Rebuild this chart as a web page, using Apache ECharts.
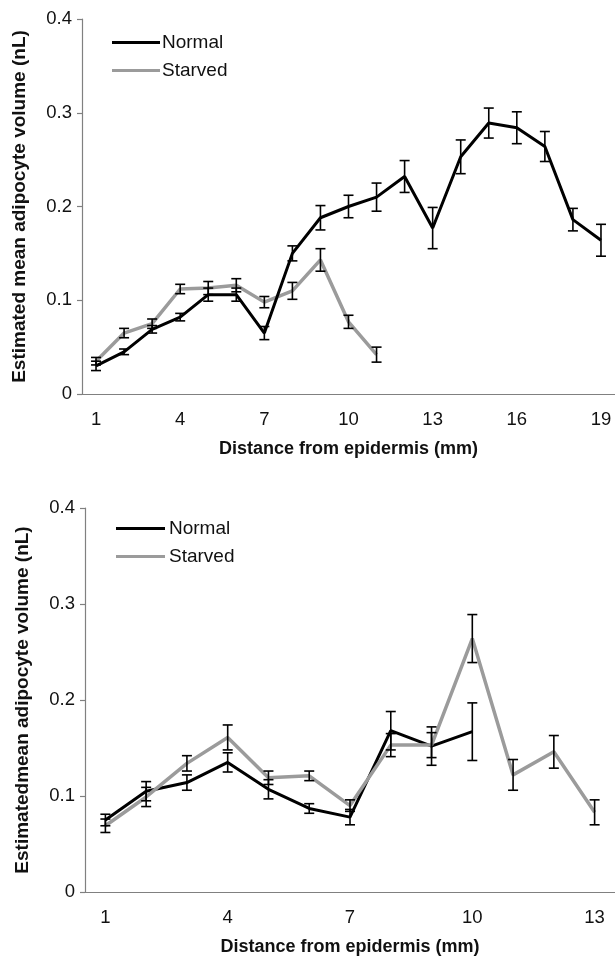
<!DOCTYPE html>
<html><head><meta charset="utf-8">
<script src="https://cdn.jsdelivr.net/npm/echarts@6/dist/echarts.min.js"></script>
<style>html,body{margin:0;padding:0;background:#fff}#c{width:615px;height:963px}</style>
</head><body><div id="c"></div>
<script>
const topCategories = ['1','2','3','4','5','6','7','8','9','10','11','12','13','14','15','16','17','18','19'];
const topNormal = [0.030, 0.045, 0.069, 0.082, 0.106, 0.106, 0.065, 0.150, 0.188, 0.200, 0.210, 0.232, 0.177, 0.253, 0.289, 0.284, 0.264, 0.186, 0.164];
const topNormalErr = [0.005, 0.003, 0.004, 0.004, 0.007, 0.007, 0.007, 0.008, 0.013, 0.012, 0.015, 0.017, 0.022, 0.018, 0.016, 0.017, 0.016, 0.012, 0.017];
const topStarved = [0.035, 0.065, 0.075, 0.112, 0.113, 0.116, 0.098, 0.110, 0.143, 0.077, 0.042];
const topStarvedErr = [0.004, 0.005, 0.005, 0.005, 0.007, 0.007, 0.006, 0.009, 0.012, 0.007, 0.008];

const bottomCategories = ['1','2','3','4','5','6','7','8','9','10','11','12','13'];
const bottomNormal = [0.075, 0.105, 0.114, 0.135, 0.107, 0.087, 0.078, 0.168, 0.152, 0.167];
const bottomNormalErr = [0.006, 0.010, 0.008, 0.010, 0.010, 0.005, 0.008, 0.020, 0.020, 0.030];
const bottomStarved = [0.069, 0.099, 0.134, 0.161, 0.119, 0.121, 0.090, 0.153, 0.153, 0.264, 0.122, 0.146, 0.083];
const bottomStarvedErr = [0.007, 0.010, 0.008, 0.013, 0.007, 0.005, 0.006, 0.012, 0.013, 0.025, 0.016, 0.017, 0.013];

const yTickLabels = ['0', '0.1', '0.2', '0.3', '0.4'];
const seriesNames = ['Normal', 'Starved'];
const xTitle = 'Distance from epidermis (mm)';
const yTitleTop = 'Estimated mean adipocyte volume (nL)';
const yTitleBottom = 'Estimatedmean adipocyte volume (nL)';

const FONT = '"Liberation Sans", Arial, sans-serif';
const AXIS_COLOR = '#808080';
const NORMAL_COLOR = '#000000';
const STARVED_COLOR = '#9b9b9b';

function errData(vals, errs) {
  return vals.map((v, i) => [i, v, errs[i]]);
}
function errRender(params, api) {
  const x = api.value(0), v = api.value(1), e = api.value(2);
  const hi = api.coord([x, v + e]);
  const lo = api.coord([x, v - e]);
  const hw = 5;
  const st = { stroke: '#000', lineWidth: 1.6 };
  return {
    type: 'group',
    children: [
      { type: 'line', shape: { x1: hi[0], y1: hi[1], x2: lo[0], y2: lo[1] }, style: st },
      { type: 'line', shape: { x1: hi[0] - hw, y1: hi[1], x2: hi[0] + hw, y2: hi[1] }, style: st },
      { type: 'line', shape: { x1: lo[0] - hw, y1: lo[1], x2: lo[0] + hw, y2: lo[1] }, style: st }
    ]
  };
}

function xAxisCfg(cats, gridIndex) {
  return {
    type: 'category', gridIndex, data: cats, boundaryGap: true,
    axisLine: { lineStyle: { color: AXIS_COLOR, width: 1.2 } },
    axisTick: { interval: 0, length: 5, lineStyle: { color: AXIS_COLOR, width: 1.2 } },
    axisLabel: { interval: 2, margin: 16, color: '#111', fontFamily: FONT, fontSize: 18.5 },
    name: xTitle, nameLocation: 'middle', nameGap: 46,
    nameTextStyle: { fontFamily: FONT, fontSize: 18, fontWeight: 'bold', color: '#111' }
  };
}
function yAxisCfg(title, gridIndex) {
  return {
    type: 'value', gridIndex, min: 0, max: 0.4, interval: 0.1,
    splitLine: { show: false },
    axisLine: { show: true, lineStyle: { color: AXIS_COLOR, width: 1.2 } },
    axisTick: { show: true, length: 5, lineStyle: { color: AXIS_COLOR, width: 1.2 } },
    axisLabel: {
      margin: 10, color: '#111', fontFamily: FONT, fontSize: 18.5,
      formatter: (v) => yTickLabels[Math.round(v * 10)]
    },
    name: title, nameLocation: 'middle', nameGap: 53, nameRotate: 90,
    nameTextStyle: { fontFamily: FONT, fontSize: 19, fontWeight: 'bold', color: '#111' }
  };
}
function legendCfg(left, top, w, textShift) {
  return {
    orient: 'vertical', left, top, padding: 0, itemWidth: w, itemHeight: 3, itemGap: 9,
    icon: 'rect',
    data: seriesNames,
    textStyle: { fontFamily: FONT, fontSize: 19, color: '#111', lineHeight: 19, padding: [0, 0, 0, textShift] }
  };
}

const chart = echarts.init(document.getElementById('c'), null, { renderer: 'canvas' });
chart.setOption({
  animation: false,
  backgroundColor: '#fff',
  grid: [
    { left: 82, right: 0, top: 19, height: 375, containLabel: false },
    { left: 85, right: 0, top: 508, height: 384, containLabel: false }
  ],
  legend: [legendCfg(112, 33, 48, -3), legendCfg(116, 519, 49, -1)],
  xAxis: [xAxisCfg(topCategories, 0), xAxisCfg(bottomCategories, 1)],
  yAxis: [yAxisCfg(yTitleTop, 0), yAxisCfg(yTitleBottom, 1)],
  series: [
    { name: seriesNames[0], type: 'line', xAxisIndex: 0, yAxisIndex: 0, data: topNormal, symbol: 'none',
      lineStyle: { color: NORMAL_COLOR, width: 3 }, itemStyle: { color: NORMAL_COLOR }, z: 3 },
    { name: seriesNames[1], type: 'line', xAxisIndex: 0, yAxisIndex: 0, data: topStarved, symbol: 'none',
      lineStyle: { color: STARVED_COLOR, width: 3.5 }, itemStyle: { color: STARVED_COLOR }, z: 2 },
    { name: 'Normal error', type: 'custom', xAxisIndex: 0, yAxisIndex: 0, renderItem: errRender,
      data: errData(topNormal, topNormalErr), encode: { x: 0, y: 1 }, z: 5 },
    { name: 'Starved error', type: 'custom', xAxisIndex: 0, yAxisIndex: 0, renderItem: errRender,
      data: errData(topStarved, topStarvedErr), encode: { x: 0, y: 1 }, z: 5 },

    { name: seriesNames[0], type: 'line', xAxisIndex: 1, yAxisIndex: 1, data: bottomNormal, symbol: 'none',
      lineStyle: { color: NORMAL_COLOR, width: 3 }, itemStyle: { color: NORMAL_COLOR }, z: 2 },
    { name: seriesNames[1], type: 'line', xAxisIndex: 1, yAxisIndex: 1, data: bottomStarved, symbol: 'none',
      lineStyle: { color: STARVED_COLOR, width: 3.5 }, itemStyle: { color: STARVED_COLOR }, z: 3 },
    { name: 'Normal error', type: 'custom', xAxisIndex: 1, yAxisIndex: 1, renderItem: errRender,
      data: errData(bottomNormal, bottomNormalErr), encode: { x: 0, y: 1 }, z: 5 },
    { name: 'Starved error', type: 'custom', xAxisIndex: 1, yAxisIndex: 1, renderItem: errRender,
      data: errData(bottomStarved, bottomStarvedErr), encode: { x: 0, y: 1 }, z: 5 }
  ]
});
</script>
</body></html>
